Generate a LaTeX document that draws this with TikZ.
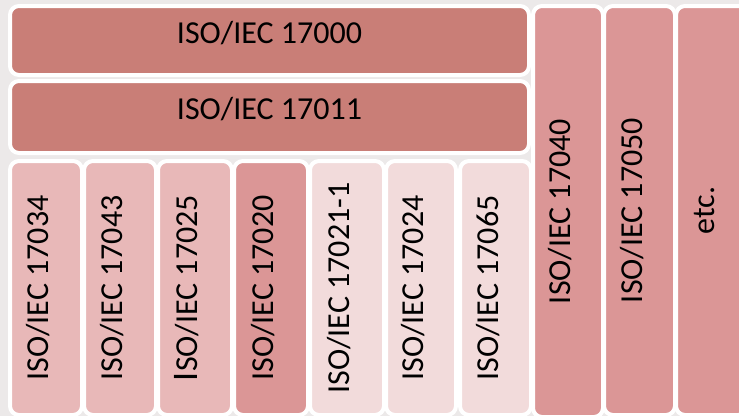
\documentclass[tikz,border=0pt]{standalone}
\usepackage{fontspec}
\setmainfont{Carlito}
\definecolor{bgc}{HTML}{ECE9E9}
\definecolor{cdark}{HTML}{C97E77}
\definecolor{cmid}{HTML}{DB9696}
\definecolor{clight}{HTML}{E8B8B8}
\definecolor{clightest}{HTML}{F2DBDB}
\tikzset{
  box/.style={draw=white, line width=4pt, rounded corners=9pt, inner sep=0pt, outer sep=0pt,
    font=\fontsize{32}{37}\selectfont, text height=0.75em, text depth=0.25em, align=center},
  vbox/.style={box, rotate=90}
}
\begin{document}
\begin{tikzpicture}[x=1pt,y=-1pt]
\useasboundingbox (0,0) rectangle (739,416);
\fill[bgc] (0,0) rectangle (739,416);
\node[box, fill=cdark, minimum width=519pt, minimum height=69pt] (a) at (269.5,40.5) {ISO/IEC 17000};
\node[box, fill=cdark, minimum width=519pt, minimum height=72pt] (b) at (269.5,117) {ISO/IEC 17011};
\node[vbox, fill=clight, minimum width=254pt, minimum height=72pt] (c1) at (46,288) {ISO/IEC 17034};
\node[vbox, fill=clight, minimum width=254pt, minimum height=72pt] (c2) at (120,288) {ISO/IEC 17043};
\node[vbox, fill=clight, minimum width=254pt, minimum height=74pt] (c3) at (195,288) {{\fontsize{36}{40}\selectfont I}SO/IEC 17025};
\node[vbox, fill=cmid, minimum width=254pt, minimum height=74pt] (c4) at (271,288) {ISO/IEC 17020};
\node[vbox, fill=clightest, minimum width=254pt, minimum height=74pt] (c5) at (347,288) {ISO/IEC 17021-1};
\node[vbox, fill=clightest, minimum width=254pt, minimum height=70pt] (c6) at (421,288) {ISO/IEC 17024};
\node[vbox, fill=clightest, minimum width=254pt, minimum height=71pt] (c7) at (495.5,288) {ISO/IEC 17065};
\node[vbox, fill=cmid, minimum width=411pt, minimum height=70pt] (r1) at (568,211.5) {ISO/IEC 17040};
\node[vbox, fill=cmid, minimum width=409pt, minimum height=71pt] (r2) at (639.5,210.5) {ISO/IEC 17050};
\node[vbox, fill=cmid, minimum width=409pt, minimum height=71pt] (r3) at (711.5,210.5) {etc.};
\end{tikzpicture}
\end{document}
